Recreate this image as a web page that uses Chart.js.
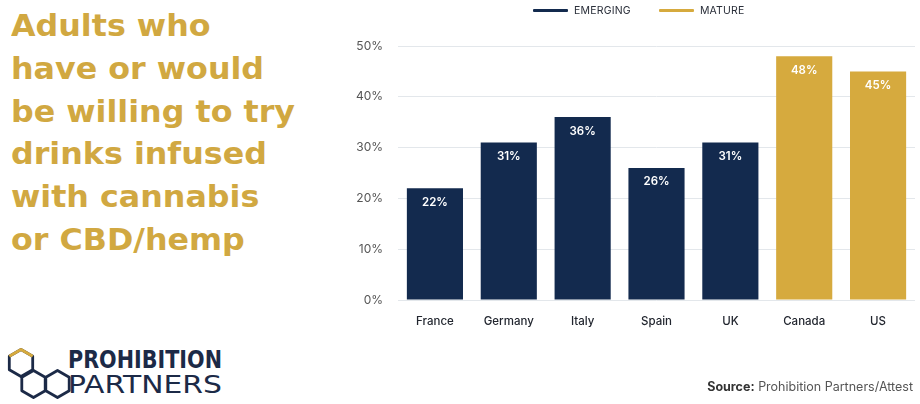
<!DOCTYPE html>
<html>
<head>
<meta charset="utf-8">
<script src="https://cdn.jsdelivr.net/npm/chart.js@4.4.0/dist/chart.umd.min.js"></script>
<style>
  html, body { margin: 0; padding: 0; background: #fff; }
  body { width: 920px; height: 404px; position: relative; overflow: hidden; font-family: Inter, "DejaVu Sans", sans-serif; }
  #title { position: absolute; left: 11px; top: 5px; color: #d1a841; font-family: "DejaVu Sans", sans-serif; font-weight: bold; font-size: 30px; line-height: 42.8px; white-space: nowrap; transform-origin: 0 0; }
  #chartBox { position: absolute; left: 340px; top: 0; width: 580px; height: 404px; }
  #legend { position: absolute; left: 533px; top: 4px; display: flex; align-items: center; font-size: 10.5px; color: #2a2f3a; letter-spacing: 0.2px; }
  #legend .item { display: flex; align-items: center; margin-right: 28px; }
  #legend .sw { width: 35px; height: 3px; margin-right: 6px; border-radius: 1px; }
  #source { position: absolute; right: 7px; top: 379px; font-size: 12.5px; color: #555; white-space: nowrap; }
  #source b { color: #333; }
  #logo { position: absolute; left: 6px; top: 344px; width: 230px; height: 58px; }
  #logo .t { position: absolute; left: 62px; color: #1c2a47; white-space: nowrap; transform-origin: 0 0; font-family: "DejaVu Sans", sans-serif; }
</style>
</head>
<body>
<div id="title"></div>
<div id="chartBox"><canvas id="chart"></canvas></div>
<div id="legend"></div>
<div id="logo">
  <svg width="66" height="58" viewBox="0 0 66 58">
    <g fill="none" stroke="#1c2a47" stroke-width="2.8" stroke-linejoin="round">
      <polygon points="15,5.5 26.7,12.25 26.7,25.75 15,32.5 3.3,25.75 3.3,12.25"/>
      <polygon points="27.5,26.5 39.2,33.25 39.2,46.75 27.5,53.5 15.8,46.75 15.8,33.25"/>
      <polygon points="51.5,26.5 63.2,33.25 63.2,46.75 51.5,53.5 39.8,46.75 39.8,33.25"/>
    </g>
    <polyline points="3.3,12.25 15,5.5 26.7,12.25" fill="none" stroke="#d6aa3e" stroke-width="3" stroke-linejoin="round"/>
  </svg>
  <span class="t" id="logo1" style="top:2px;font-size:24px;font-weight:bold;">PROHIBITION</span>
  <span class="t" id="logo2" style="top:27px;font-size:24px;font-weight:normal;">PARTNERS</span>
</div>
<div id="source"><b>Source:</b> Prohibition Partners/Attest</div>
<script>
// title text
const titleLines = ['Adults who', 'have or would', 'be willing to try', 'drinks infused', 'with cannabis', 'or CBD/hemp'];

// chart data
const countries = ['France', 'Germany', 'Italy', 'Spain', 'UK', 'Canada', 'US'];
const shares = [22, 31, 36, 26, 31, 48, 45];
const market = ['EMERGING', 'EMERGING', 'EMERGING', 'EMERGING', 'EMERGING', 'MATURE', 'MATURE'];
const groups = ['EMERGING', 'MATURE'];
const groupColors = ['#132a4e', '#d6aa3e'];
const yTicks = [0, 10, 20, 30, 40, 50];

// title, stretched so the widest line matches the picture
const titleEl = document.getElementById('title');
titleEl.innerHTML = titleLines.map(function (l) { return '<div><span>' + l + '</span></div>'; }).join('');
let widest = 0;
titleEl.querySelectorAll('span').forEach(function (s) { widest = Math.max(widest, s.getBoundingClientRect().width); });
titleEl.style.transform = 'scaleX(' + (284 / widest) + ')';

// logo words stretched to the same width
['logo1', 'logo2'].forEach(function (id) {
  const el = document.getElementById(id);
  el.style.transform = 'scaleX(' + (154 / el.getBoundingClientRect().width) + ')';
});

// legend
document.getElementById('legend').innerHTML = groups.map(function (g, i) {
  return '<div class="item"><div class="sw" style="background:' + groupColors[i] + '"></div>' + g + '</div>';
}).join('');

const datasets = groups.map(function (g, i) {
  return {
    label: g,
    data: shares.map(function (v, j) { return market[j] === g ? v : null; }),
    backgroundColor: groupColors[i],
    barPercentage: 0.76,
    categoryPercentage: 1.0,
    skipNull: true
  };
});

const barLabels = {
  id: 'barLabels',
  afterDatasetsDraw(chart) {
    const ctx = chart.ctx;
    ctx.save();
    ctx.fillStyle = '#ffffff';
    ctx.font = '600 11.5px Inter, sans-serif';
    ctx.textAlign = 'center';
    ctx.textBaseline = 'middle';
    chart.data.datasets.forEach(function (ds, i) {
      chart.getDatasetMeta(i).data.forEach(function (bar, j) {
        if (ds.data[j] == null) return;
        ctx.fillText(ds.data[j] + '%', bar.x, bar.y + 14);
      });
    });
    ctx.restore();
  }
};

new Chart(document.getElementById('chart'), {
  type: 'bar',
  data: { labels: countries, datasets: datasets },
  options: {
    responsive: true,
    maintainAspectRatio: false,
    animation: false,
    layout: { padding: { top: 46, right: 5, bottom: 68, left: 0 } },
    plugins: { legend: { display: false }, tooltip: { enabled: false } },
    scales: {
      x: {
        stacked: true,
        grid: { display: false, drawTicks: false },
        border: { display: false },
        ticks: { color: '#22262f', font: { family: 'Inter', size: 11.5, weight: '500' }, padding: 15 },
        afterFit(scale) { scale.height = 36; }
      },
      y: {
        stacked: true,
        min: 0,
        max: 50,
        afterBuildTicks(scale) { scale.ticks = yTicks.map(function (v) { return { value: v }; }); },
        grid: { color: '#e3e7eb', lineWidth: 1, drawTicks: false },
        border: { display: false },
        ticks: { color: '#555', font: { family: 'Inter', size: 12 }, padding: 15, callback: function (v) { return v + '%'; } },
        afterFit(scale) { scale.width = 58; }
      }
    }
  },
  plugins: [barLabels]
});
</script>
</body>
</html>
